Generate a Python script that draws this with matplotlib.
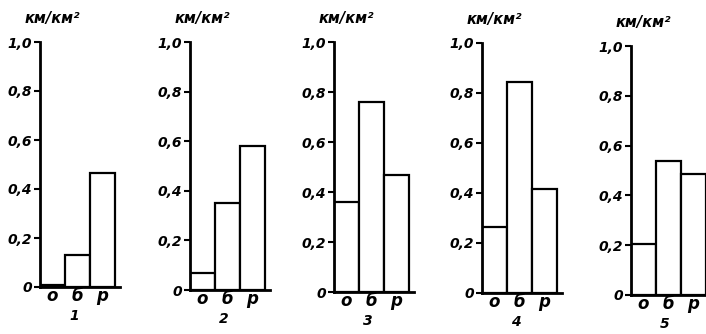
import matplotlib
matplotlib.use("Agg")
import matplotlib.pyplot as plt

# density values, km/km^2, for the five panels
categories = ["о", "б", "р"]
panel_names = ["1", "2", "3", "4", "5"]
values_1 = [0.01, 0.13, 0.465]
values_2 = [0.07, 0.35, 0.58]
values_3 = [0.36, 0.76, 0.47]
values_4 = [0.265, 0.845, 0.415]
values_5 = [0.205, 0.54, 0.485]
y_ticks = [0, 0.2, 0.4, 0.6, 0.8, 1.0]
y_tick_labels = ["0", "0,2", "0,4", "0,6", "0,8", "1,0"]
unit = "км/км²"

all_values = [values_1, values_2, values_3, values_4, values_5]

plt.rcParams['font.family'] = ['DejaVu Sans']
plt.rcParams['font.weight'] = 'bold'
plt.rcParams['font.style'] = 'italic'

W, H = 706, 334
fig = plt.figure(figsize=(W / 100, H / 100), dpi=100)

# (axis x, top y, bottom y) in pixels
frames = [(40, 42, 287), (190, 42, 290), (334, 42, 292), (482, 43, 293), (631, 46, 295)]

for i in range(5):
    x0, top, bot = frames[i]
    ax = fig.add_axes([x0 / W, (H - bot) / H, 80 / W, (bot - top) / H])
    xs = range(len(categories))
    ax.bar(xs, all_values[i], width=1.0, align='edge', color='white',
           edgecolor='black', linewidth=1.6)
    ax.set_xlim(0, 3.2)
    ax.set_ylim(0, 1.0)
    ax.set_xticks([x + 0.5 for x in xs])
    ax.set_xticklabels(categories, fontsize=12, fontweight='bold', style='italic')
    ax.set_yticks(y_ticks)
    ax.set_yticklabels(y_tick_labels, fontsize=10, fontweight='bold', style='italic')
    ax.tick_params(axis='x', length=0, pad=0)
    ax.tick_params(axis='y', length=4, width=1.5, pad=2)
    for s in ['top', 'right']:
        ax.spines[s].set_visible(False)
    ax.spines['left'].set_linewidth(2)
    ax.spines['bottom'].set_linewidth(2)
    ax.patch.set_alpha(0)
    ax.annotate(unit, xy=(0, 1), xycoords='axes fraction', xytext=(9, 17),
                textcoords='offset points', ha='center', va='center',
                fontsize=10.5, fontweight='bold', style='italic')
    fig.text((x0 + 34) / W, 1 - (bot + 29) / H, panel_names[i], ha='center', va='center',
             fontsize=10, fontweight='bold', style='italic')

fig.savefig("out.png", dpi=100)
